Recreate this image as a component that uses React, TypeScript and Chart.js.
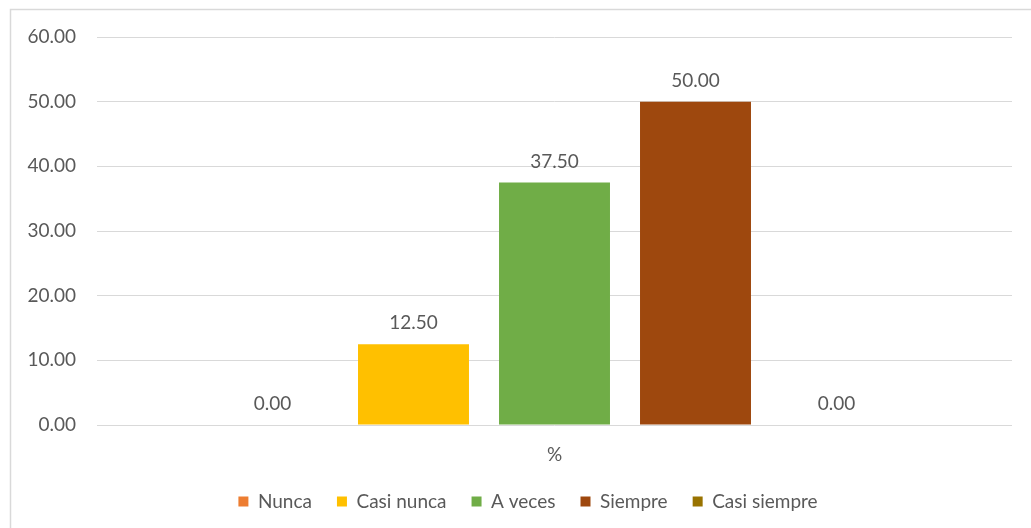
import { useEffect, useRef } from "react";
import { Chart, registerables } from "chart.js";

Chart.register(...registerables);

const categories = ["%"];
const seriesNames = ["Nunca", "Casi nunca", "A veces", "Siempre", "Casi siempre"];
const seriesValues = [0, 12.5, 37.5, 50, 0];
const seriesColors = ["#ED7D31", "#FFC000", "#70AD47", "#9E480E", "#997300"];
const yMin = 0;
const yMax = 60;
const yStep = 10;

const FONT = "Lato, 'Noto Sans', sans-serif";
const TEXT = "#595959";
const GRID = "#d9d9d9";
const W = 1046;
const H = 540;

const framePlugin = {
  id: "frame",
  beforeDraw(chart: any) {
    const ctx = chart.ctx;
    ctx.save();
    ctx.fillStyle = "#ffffff";
    ctx.fillRect(0, 0, chart.width, chart.height);
    ctx.strokeStyle = GRID;
    ctx.lineWidth = 1.5;
    ctx.strokeRect(10.5, 9.5, W - 14, H - 14);
    ctx.restore();
  },
};

const labelPlugin = {
  id: "barLabels",
  afterDatasetsDraw(chart: any) {
    const ctx = chart.ctx;
    ctx.save();
    ctx.font = `19px ${FONT}`;
    ctx.fillStyle = TEXT;
    ctx.textAlign = "center";
    ctx.textBaseline = "middle";
    chart.data.datasets.forEach((ds: any, i: number) => {
      const meta = chart.getDatasetMeta(i);
      meta.data.forEach((bar: any, j: number) => {
        const v = ds.data[j];
        ctx.fillText(Number(v).toFixed(2), bar.x, bar.y - 21);
      });
    });
    ctx.restore();
  },
};

export default function App() {
  const ref = useRef<HTMLCanvasElement>(null);
  useEffect(() => {
    if (!ref.current) return;
    const chart = new Chart(ref.current, {
      type: "bar",
      data: {
        labels: categories,
        datasets: seriesNames.map((name, i) => ({
          label: name,
          data: [seriesValues[i]],
          backgroundColor: seriesColors[i],
          borderWidth: 0,
          categoryPercentage: 0.7705,
          barPercentage: 0.787,
        })),
      },
      options: {
        animation: false,
        responsive: false,
        devicePixelRatio: 1,
        layout: { padding: { left: 10, right: 0, top: 37, bottom: 19 } },
        plugins: {
          legend: {
            position: "bottom",
            labels: {
              boxWidth: 10,
              boxHeight: 10,
              padding: 25,
              color: TEXT,
              font: { family: FONT, size: 19 },
            },
          },
          tooltip: { enabled: false },
        },
        scales: {
          x: {
            grid: { display: false },
            border: { display: false },
            ticks: { color: TEXT, font: { family: FONT, size: 19 }, padding: 10 },
            afterFit(scale: any) {
              scale.height = 42;
            },
          },
          y: {
            min: yMin,
            max: yMax,
            grid: { color: GRID, lineWidth: 1, drawTicks: false },
            border: { display: false },
            ticks: {
              stepSize: yStep,
              color: TEXT,
              padding: 21,
              font: { family: FONT, size: 19 },
              callback: (v: any) => Number(v).toFixed(2),
            },
            afterFit(scale: any) {
              scale.width = 87;
            },
          },
          yRight: {
            position: "right",
            min: yMin,
            max: yMax,
            grid: { display: false, drawTicks: false },
            border: { display: false },
            ticks: { display: false },
            afterFit(scale: any) {
              scale.width = 34;
            },
          },
        },
      },
      plugins: [framePlugin, labelPlugin],
    });
    return () => chart.destroy();
  }, []);
  return (
    <div
      style={{
        position: "absolute",
        left: 0,
        top: 0,
        width: 1031,
        height: 528,
        overflow: "hidden",
        background: "#fff",
      }}
    >
      <canvas ref={ref} width={W} height={H} style={{ width: W, height: H, display: "block" }} />
    </div>
  );
}
